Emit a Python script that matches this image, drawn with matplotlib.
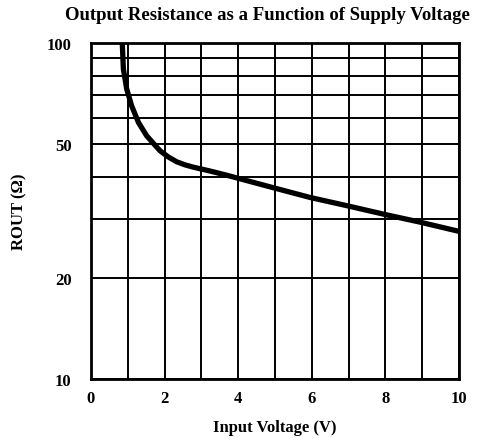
import matplotlib
matplotlib.use("Agg")
import matplotlib.pyplot as plt
from matplotlib.ticker import FixedLocator, NullFormatter, FixedFormatter

# Data
voltage = [0.85, 0.88, 0.97, 1.105, 1.29, 1.51, 1.7, 1.875, 2.1, 2.33, 2.55, 2.78, 3.23, 3.69,
           4.91, 5.95, 6.95, 8.03, 8.94, 10.0]
rout = [100, 83.7, 73, 65, 58, 53, 50.2, 47.8, 45.8, 44.3, 43.4, 42.7, 41.6, 40.4,
        37.2, 34.7, 32.8, 30.8, 29.3, 27.5]

x_ticks = [0, 2, 4, 6, 8, 10]
x_grid = [0, 1, 2, 3, 4, 5, 6, 7, 8, 9, 10]
y_ticks = [10, 20, 50, 100]
y_grid = [10, 20, 30, 40, 50, 60, 70, 80, 90, 100]

plt.rcParams['font.family'] = ['Liberation Serif', 'DejaVu Serif']

fig = plt.figure(figsize=(4.85, 4.39), dpi=100)
ax = fig.add_axes([0.1876, 0.1344, 0.7588, 0.7654])

ax.set_yscale('log')
ax.set_xlim(0, 10)
ax.set_ylim(10, 100)

for gx in x_grid:
    ax.axvline(gx, color='black', lw=1.4, zorder=1)
for gy in y_grid:
    ax.axhline(gy, color='black', lw=1.4, zorder=1)

ax.plot(voltage, rout, color='black', lw=3.8, solid_capstyle='butt',
        solid_joinstyle='round', zorder=3)

ax.xaxis.set_major_locator(FixedLocator(x_ticks))
ax.set_xticklabels([str(v) for v in x_ticks])
ax.yaxis.set_major_locator(FixedLocator(y_ticks))
ax.yaxis.set_major_formatter(FixedFormatter([str(v) for v in y_ticks]))
ax.yaxis.set_minor_locator(FixedLocator([]))
ax.yaxis.set_minor_formatter(NullFormatter())
ax.tick_params(axis='x', length=0, labelsize=12, pad=8)
ax.tick_params(axis='y', length=0, labelsize=12, pad=14)
for lbl in ax.get_xticklabels() + ax.get_yticklabels():
    lbl.set_fontweight('bold')

for sp in ax.spines.values():
    sp.set_linewidth(2)

ax.set_title('Output Resistance as a Function of Supply Voltage',
             fontsize=13.5, fontweight='bold', pad=17, x=0.48)
ax.set_xlabel('Input Voltage (V)', fontsize=12, fontweight='bold', labelpad=9)
ax.set_ylabel('ROUT (Ω)', fontsize=12, fontweight='bold', labelpad=14)

fig.savefig('out.png', dpi=100)
